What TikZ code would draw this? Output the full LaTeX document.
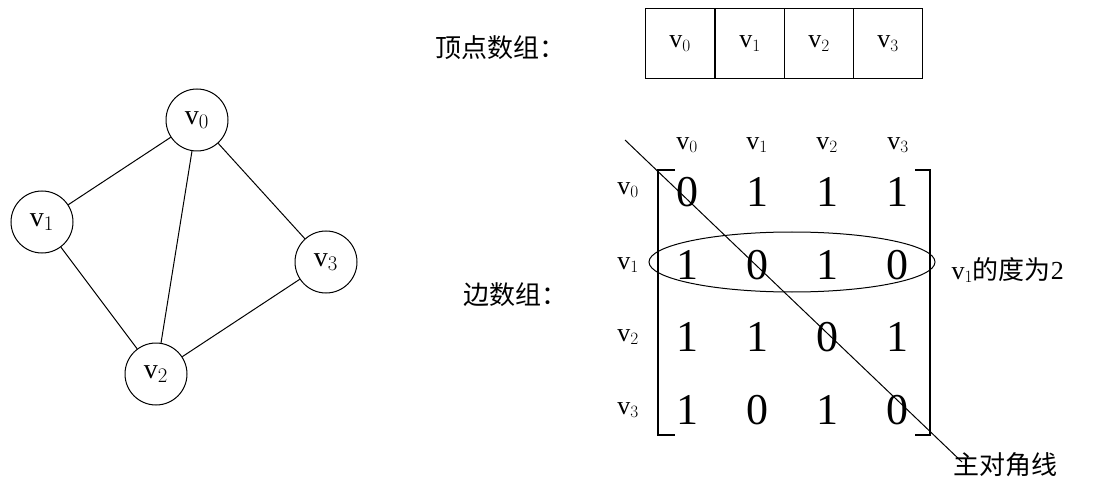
\documentclass[tikz,border=0pt]{standalone}
\usepackage{fontspec}
\setmainfont{Liberation Serif}
\newfontfamily\cjk{Noto Sans CJK SC}
\begin{document}
\begin{tikzpicture}[x=1pt,y=-1pt,
  vtx/.style={circle,draw,line width=1pt,minimum size=62pt,inner sep=0pt,font=\fontsize{28}{30}\selectfont},
  lab/.style={font=\fontsize{26}{28}\selectfont},
  ent/.style={font=\fontsize{44}{46}\selectfont},
  cjkl/.style={font=\cjk\fontsize{26}{28}\selectfont},
  edge/.style={line width=1pt}]
\useasboundingbox (0,0) rectangle (1094,486);
\node[vtx] (v0) at (197,120) {v$_0$};
\node[vtx] (v1) at (42,222) {v$_1$};
\node[vtx] (v3) at (326,262) {v$_3$};
\node[vtx] (v2) at (156,374) {v$_2$};
\draw[edge] (v0)--(v1) (v0)--(v2) (v0)--(v3) (v1)--(v2) (v2)--(v3);
\node[cjkl] (t1) at (500,48) {顶点数组：};
\node[cjkl] (t2) at (515,295) {边数组：};
\foreach \x/\i in {645/0,715/1,784/2,853/3}{
  \node[draw,line width=1pt,minimum width=69pt,minimum height=70pt,anchor=north west,lab] (b\i) at (\x,8) {v$_\i$};}
\foreach \x/\i in {687/0,757/1,827/2,898/3}{
  \node[lab] (c\i) at (\x,145) {v$_\i$};}
\foreach \y/\i in {190/0,265/1,337/2,410/3}{
  \node[lab] (r\i) at (628,\y) {v$_\i$};}
\foreach \row [count=\r from 0] in {{0,1,1,1},{1,0,1,0},{1,1,0,1},{1,0,1,0}}{
  \foreach \v [count=\c from 0] in \row {
    \pgfmathsetmacro{\xx}{687+70*\c}
    \pgfmathsetmacro{\yy}{192+72.7*\r}
    \node[ent] (m\r\c) at (\xx,\yy) {\v};}}
\draw[line width=1.5pt] (675,170)--(658,170)--(658,435)--(675,435);
\draw[line width=1.5pt] (915,170)--(930,170)--(930,435)--(915,435);
\draw[line width=1pt] (792,262) ellipse [x radius=143, y radius=30];
\coordinate (d0) at (625,140); \coordinate (d1) at (962,462);
\draw[line width=1pt] (d0)--(d1);
\node[lab,anchor=west] (deg) at (948,270) {v$_1$\cjk 的度为\rmfamily 2};
\node[cjkl,anchor=west] (diag) at (950,465) {主对角线};
\end{tikzpicture}
\end{document}
